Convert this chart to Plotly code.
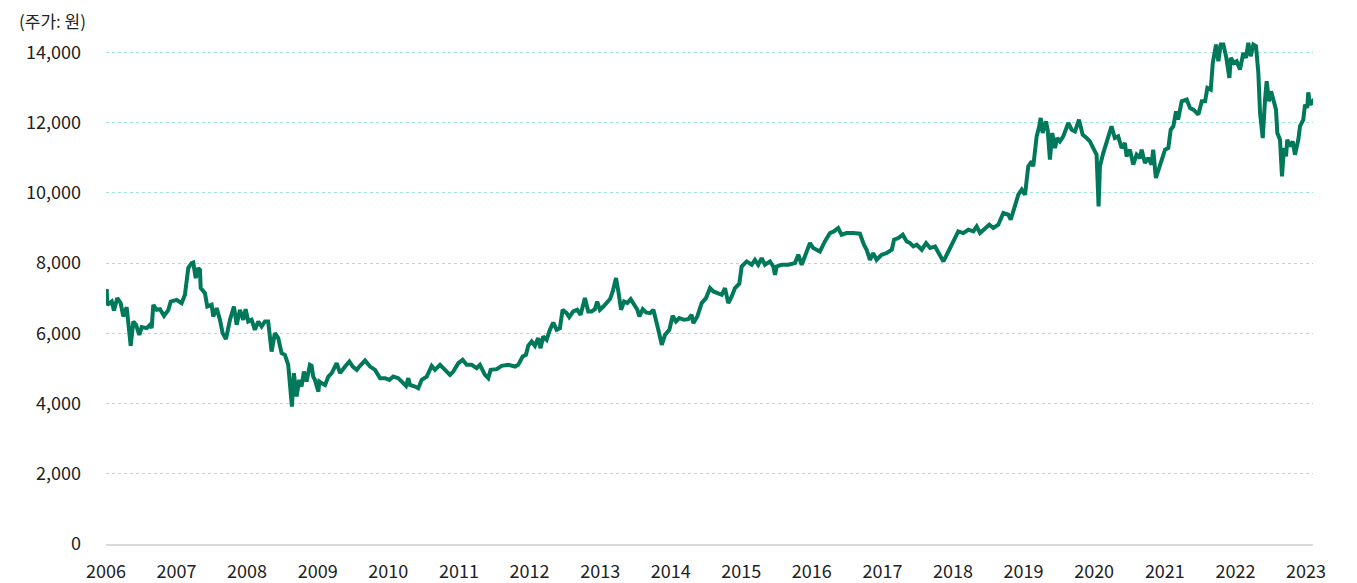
import pandas as pd
import plotly.graph_objects as go

# decimal year positions and share prices (KRW)
years = [
    2006.010, 2006.018, 2006.081, 2006.113, 2006.160, 2006.208, 2006.245, 2006.293, 2006.350, 2006.387,
    2006.425, 2006.472, 2006.506, 2006.577, 2006.623, 2006.647, 2006.670, 2006.718, 2006.765, 2006.822,
    2006.883, 2006.917, 2007.002, 2007.072, 2007.119, 2007.166, 2007.214, 2007.237, 2007.271, 2007.308,
    2007.332, 2007.342, 2007.403, 2007.435, 2007.497, 2007.520, 2007.568, 2007.615, 2007.653, 2007.700,
    2007.757, 2007.813, 2007.852, 2007.898, 2007.945, 2007.979, 2008.016, 2008.064, 2008.111, 2008.158,
    2008.206, 2008.253, 2008.299, 2008.347, 2008.394, 2008.441, 2008.489, 2008.536, 2008.583, 2008.617,
    2008.635, 2008.663, 2008.702, 2008.738, 2008.772, 2008.805, 2008.843, 2008.890, 2008.914, 2008.937,
    2008.961, 2009.008, 2009.022, 2009.056, 2009.103, 2009.149, 2009.197, 2009.268, 2009.315, 2009.386,
    2009.447, 2009.495, 2009.552, 2009.598, 2009.669, 2009.740, 2009.811, 2009.882, 2009.953, 2010.014,
    2010.070, 2010.141, 2010.203, 2010.250, 2010.283, 2010.307, 2010.378, 2010.424, 2010.472, 2010.543,
    2010.614, 2010.661, 2010.732, 2010.803, 2010.873, 2010.920, 2010.991, 2011.053, 2011.110, 2011.181,
    2011.252, 2011.298, 2011.369, 2011.416, 2011.450, 2011.535, 2011.606, 2011.699, 2011.794, 2011.841,
    2011.903, 2011.950, 2011.983, 2012.031, 2012.078, 2012.124, 2012.158, 2012.195, 2012.243, 2012.290,
    2012.337, 2012.385, 2012.432, 2012.470, 2012.527, 2012.564, 2012.620, 2012.677, 2012.725, 2012.786,
    2012.833, 2012.881, 2012.928, 2012.960, 2012.998, 2013.045, 2013.102, 2013.140, 2013.178, 2013.225,
    2013.258, 2013.296, 2013.339, 2013.385, 2013.433, 2013.480, 2013.527, 2013.555, 2013.603, 2013.650,
    2013.707, 2013.754, 2013.792, 2013.824, 2013.873, 2013.919, 2013.980, 2014.028, 2014.075, 2014.122,
    2014.189, 2014.249, 2014.297, 2014.320, 2014.377, 2014.439, 2014.500, 2014.557, 2014.604, 2014.660,
    2014.723, 2014.769, 2014.816, 2014.864, 2014.911, 2014.972, 2015.006, 2015.077, 2015.148, 2015.194,
    2015.241, 2015.289, 2015.336, 2015.407, 2015.454, 2015.478, 2015.502, 2015.572, 2015.666, 2015.761,
    2015.808, 2015.856, 2015.927, 2015.974, 2016.020, 2016.115, 2016.186, 2016.257, 2016.314, 2016.374,
    2016.422, 2016.493, 2016.587, 2016.682, 2016.739, 2016.777, 2016.824, 2016.870, 2016.918, 2016.989,
    2017.060, 2017.131, 2017.164, 2017.224, 2017.287, 2017.343, 2017.390, 2017.437, 2017.485, 2017.556,
    2017.617, 2017.674, 2017.744, 2017.791, 2017.862, 2017.910, 2017.967, 2018.028, 2018.074, 2018.145,
    2018.216, 2018.287, 2018.335, 2018.382, 2018.453, 2018.514, 2018.570, 2018.641, 2018.712, 2018.783,
    2018.817, 2018.854, 2018.892, 2018.925, 2018.973, 2019.020, 2019.066, 2019.114, 2019.137, 2019.185,
    2019.222, 2019.242, 2019.270, 2019.317, 2019.341, 2019.373, 2019.406, 2019.444, 2019.477, 2019.515,
    2019.562, 2019.633, 2019.681, 2019.728, 2019.785, 2019.837, 2019.893, 2019.940, 2019.987, 2020.035,
    2020.063, 2020.082, 2020.129, 2020.175, 2020.246, 2020.293, 2020.341, 2020.389, 2020.436, 2020.460,
    2020.507, 2020.554, 2020.602, 2020.649, 2020.673, 2020.720, 2020.766, 2020.814, 2020.837, 2020.875,
    2020.908, 2020.956, 2021.003, 2021.049, 2021.083, 2021.120, 2021.158, 2021.187, 2021.239, 2021.310,
    2021.357, 2021.404, 2021.475, 2021.523, 2021.570, 2021.602, 2021.650, 2021.679, 2021.725, 2021.758,
    2021.792, 2021.829, 2021.867, 2021.914, 2021.934, 2021.980, 2022.018, 2022.065, 2022.112, 2022.150,
    2022.183, 2022.217, 2022.254, 2022.292, 2022.325, 2022.349, 2022.387, 2022.420, 2022.443, 2022.476,
    2022.505, 2022.537, 2022.575, 2022.594, 2022.632, 2022.660, 2022.688, 2022.717, 2022.735, 2022.774,
    2022.812, 2022.844, 2022.891, 2022.915, 2022.962, 2022.986, 2023.019, 2023.033, 2023.057, 2023.095,
    2023.114,
]

prices = [
    7262, 6814, 6908, 6652, 7005, 6862, 6481, 6748, 5645, 6338,
    6244, 5959, 6178, 6150, 6244, 6150, 6814, 6671, 6690, 6500,
    6671, 6908, 6956, 6862, 7099, 7860, 8003, 8021, 7575, 7860,
    7812, 7290, 7147, 6766, 6814, 6481, 6719, 6387, 6007, 5836,
    6387, 6766, 6244, 6671, 6387, 6690, 6338, 6387, 6101, 6338,
    6196, 6338, 6338, 5483, 6007, 5864, 5436, 5389, 5104, 4297,
    3915, 4867, 4200, 4676, 4485, 4912, 4627, 5104, 5075, 4770,
    4676, 4342, 4627, 4582, 4533, 4770, 4867, 5152, 4867, 5055,
    5198, 5055, 4961, 5075, 5226, 5055, 4961, 4724, 4724, 4676,
    4770, 4724, 4582, 4505, 4724, 4533, 4485, 4438, 4676, 4770,
    5075, 4961, 5104, 4961, 4818, 4912, 5152, 5246, 5104, 5104,
    5009, 5104, 4818, 4724, 4961, 4980, 5075, 5104, 5055, 5104,
    5340, 5389, 5650, 5768, 5645, 5864, 5579, 5911, 5816, 6101,
    6309, 6101, 6150, 6671, 6576, 6462, 6624, 6671, 6529, 7005,
    6624, 6624, 6690, 6908, 6671, 6766, 6880, 6977, 7194, 7575,
    7194, 6671, 6908, 6862, 6977, 6814, 6671, 6481, 6690, 6595,
    6576, 6671, 6387, 6101, 5674, 5959, 6101, 6500, 6338, 6435,
    6387, 6406, 6529, 6292, 6481, 6862, 7005, 7290, 7194, 7147,
    7099, 7290, 6862, 7051, 7290, 7413, 7906, 8049, 7955, 8097,
    7955, 8145, 7955, 8049, 7906, 7669, 7906, 7955, 7955, 8003,
    8240, 7955, 8334, 8573, 8431, 8334, 8620, 8858, 8905, 9001,
    8810, 8858, 8858, 8839, 8525, 8383, 8097, 8289, 8097, 8240,
    8289, 8383, 8668, 8716, 8810, 8620, 8573, 8477, 8525, 8383,
    8573, 8431, 8477, 8289, 8049, 8240, 8477, 8763, 8905, 8858,
    8953, 8905, 9047, 8858, 9001, 9095, 9001, 9095, 9428, 9380,
    9238, 9475, 9713, 9951, 10093, 9951, 10757, 10900, 10757, 11612,
    11898, 12137, 11707, 12040, 11803, 10949, 11707, 11280, 11565, 11470,
    11612, 11993, 11803, 11755, 12089, 11661, 11565, 11470, 11280, 11090,
    9618, 10757, 11137, 11422, 11898, 11565, 11612, 11280, 11422, 11042,
    11233, 10806, 11090, 10996, 11233, 10853, 10996, 10806, 11233, 10427,
    10615, 10900, 11233, 11280, 11803, 11898, 12326, 12089, 12611, 12660,
    12422, 12374, 12232, 12611, 12611, 12991, 12944, 13705, 14227, 13752,
    14227, 14227, 13894, 13278, 13847, 13705, 13752, 13515, 13990, 13847,
    14275, 13894, 14227, 14180, 13420, 12279, 11565, 12660, 13183, 12611,
    12896, 12660, 12374, 11707, 11517, 10472, 11280, 11042, 11517, 11328,
    11470, 11090, 11517, 11898, 12089, 12517, 12422, 12868, 12517, 12611,
    12517,
]

y_ticks = [0, 2000, 4000, 6000, 8000, 10000, 12000, 14000]
x_tick_years = list(range(2006, 2024))


def to_date(y):
    yr = int(y)
    return pd.Timestamp(year=yr, month=1, day=1) + pd.Timedelta(days=(y - yr) * 365.25)


dates = [to_date(v) for v in years]

FONT = "Noto Sans CJK KR, Noto Sans, sans-serif"

fig = go.Figure()
fig.add_trace(go.Scatter(
    x=dates, y=prices, mode="lines",
    line=dict(color="#00785a", width=4),
    hoverinfo="x+y", showlegend=False,
))

# the page body adds an 8px offset, so the figure is sized to fit inside it
fig.update_layout(
    width=1349, height=575,
    margin=dict(l=98, r=44, t=27, b=39, autoexpand=False),
    paper_bgcolor="white", plot_bgcolor="white",
    font=dict(family=FONT, size=18, color="#222222"),
    xaxis=dict(
        type="date",
        range=[to_date(2006.0), to_date(2023.1)],
        tickvals=[pd.Timestamp(year=y, month=1, day=1) for y in x_tick_years],
        ticktext=[str(y) for y in x_tick_years],
        showgrid=False, zeroline=False,
        showline=True, linecolor="#d9d9d9", linewidth=2,
        ticks="", ticklabelstandoff=10, automargin=False,
        tickfont=dict(family=FONT, size=18, color="#222222"),
    ),
    yaxis=dict(
        range=[0, 14500],
        tickvals=y_ticks,
        tickformat=",",
        showgrid=True, gridcolor="#9fe6d6", griddash="dot", gridwidth=1,
        zeroline=False, showline=False,
        ticks="", ticklabelstandoff=24, automargin=False,
        tickfont=dict(family=FONT, size=18, color="#222222"),
    ),
    annotations=[dict(
        text="(주가: 원)", xref="paper", yref="paper",
        x=-89 / 1207, y=1 + 14 / 509, xanchor="left", yanchor="middle",
        showarrow=False, font=dict(family=FONT, size=17, color="#222222"),
    )],
)

fig.write_html("out.html")
